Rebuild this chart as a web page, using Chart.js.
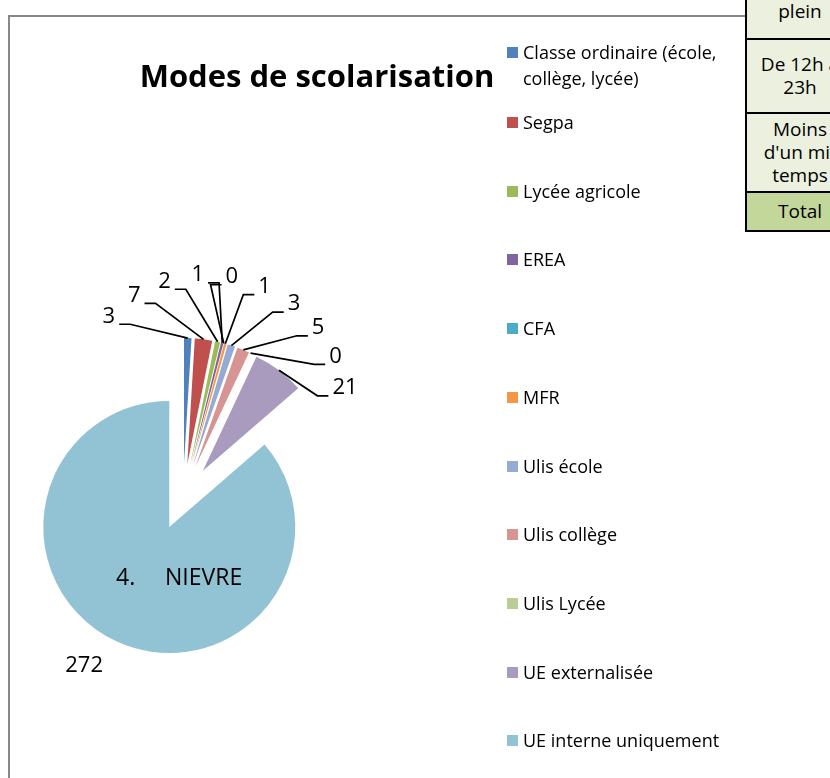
<!DOCTYPE html>
<html>
<head>
<meta charset="utf-8">
<script src="https://cdn.jsdelivr.net/npm/chart.js@4"></script>
<style>
  body { margin: 0; background: #fff; font-family: "Open Sans", sans-serif; }
  #wrap { position: relative; width: 830px; height: 778px; overflow: hidden; }
  #frame { position: absolute; left: 8px; top: 15px; width: 900px; height: 900px;
           border-left: 2px solid #888; border-top: 2px solid #888; }
  #chartBox { position: absolute; left: 0; top: 0; width: 830px; height: 778px; }
  #title { position: absolute; left: 117px; width: 400px; top: 60px; text-align: center;
           font: bold 31px "Open Sans", sans-serif; line-height: 31px; color: #000; }
  #nievre { position: absolute; left: 116px; top: 560px; font: 23px "Open Sans", sans-serif; color: #000; }
  #nievre span { position: absolute; left: 49px; white-space: nowrap; }
  .leg { position: absolute; left: 507px; width: 240px; font: 18px "Open Sans", sans-serif;
         line-height: 26px; color: #000; }
  .leg i { position: absolute; left: 0; top: 8px; width: 11px; height: 11px; }
  .leg div { margin-left: 16px; width: 205px; }
  #sheet { position: absolute; left: 745px; top: -40px; width: 110px; table-layout: fixed;
           border-collapse: collapse; font: 19px "Open Sans", sans-serif; color: #000; }
  #sheet td { border: 2px solid #000; background: #ebf1de; text-align: center;
              line-height: 23px; padding: 0; vertical-align: middle; white-space: nowrap; }
</style>
</head>
<body>
<div id="wrap">
  <div id="frame"></div>
  <div id="chartBox"><canvas id="pie"></canvas></div>
  <div id="title">Modes de scolarisation</div>
  <div id="nievre">4.<span>NIEVRE</span></div>
  <div id="legend"></div>
  <table id="sheet">
    <tr><td style="height:76px">Temps<br>plein</td></tr>
    <tr><td style="height:72px">De 12h à<br>23h</td></tr>
    <tr><td style="height:77px">Moins<br>d'un mi-<br>temps</td></tr>
    <tr><td style="height:37px;background:#c4d79b">Total</td></tr>
  </table>
</div>
<script>
// modes de scolarisation - Nièvre
const categories = [
    'Classe ordinaire (école, collège, lycée)',
    'Segpa',
    'Lycée agricole',
    'EREA',
    'CFA',
    'MFR',
    'Ulis école',
    'Ulis collège',
    'Ulis Lycée',
    'UE externalisée',
    'UE interne uniquement'
];
const effectifs = [3, 7, 2, 1, 0, 1, 3, 5, 0, 21, 272];
const colors = ['#4f81bd', '#c0504d', '#9bbb59', '#8064a2', '#4bacc6', '#f79646',
                '#95abd3', '#d69593', '#b9cd96', '#a99bbd', '#92c3d4'];

const EXPLODE = 33;  // px each slice is pulled out

// legend built by hand (Excel style, one item per slot)
const legend = document.getElementById('legend');
categories.forEach((cat, i) => {
    const item = document.createElement('div');
    item.className = 'leg';
    const center = i === 0 ? 52 : 122 + (i - 1) * 68.7;
    item.style.top = (center - 13) + 'px';
    item.innerHTML = `<i style="background:${colors[i]}"></i><div>${cat}</div>`;
    legend.appendChild(item);
});

// exploded pie: draw every arc moved out along its bisector
const explodePlugin = {
    id: 'explode',
    beforeDatasetDraw(chart, args) {
        const ctx = chart.ctx;
        args.meta.data.forEach(arc => {
            const mid = (arc.startAngle + arc.endAngle) / 2;
            ctx.save();
            ctx.translate(Math.cos(mid) * EXPLODE, Math.sin(mid) * EXPLODE);
            arc.draw(ctx);
            ctx.restore();
        });
        return false;
    }
};

// value labels with leader lines, spread out when slices are crowded
const leaderLabels = {
    id: 'leaderLabels',
    afterDatasetsDraw(chart) {
        const ctx = chart.ctx;
        const arcs = chart.getDatasetMeta(0).data;
        const vals = chart.data.datasets[0].data;
        const gap = 8.7 * Math.PI / 180;

        const info = arcs.map((arc, i) => {
            const p = arc.getProps(['x', 'y', 'startAngle', 'endAngle', 'outerRadius'], true);
            const mid = (p.startAngle + p.endAngle) / 2;
            return { i, mid, cx: p.x, cy: p.y, r: p.outerRadius + EXPLODE, want: mid };
        });

        // merge overlapping labels into clusters centred on their mean angle
        let clusters = info.map(o => ({ items: [o], center: o.want }));
        let merged = true;
        while (merged) {
            merged = false;
            for (let k = 0; k < clusters.length - 1; k++) {
                const a = clusters[k], b = clusters[k + 1];
                const aEnd = a.center + (a.items.length - 1) / 2 * gap;
                const bStart = b.center - (b.items.length - 1) / 2 * gap;
                if (bStart - aEnd < gap) {
                    const items = a.items.concat(b.items);
                    const center = items.reduce((s, o) => s + o.want, 0) / items.length;
                    clusters.splice(k, 2, { items, center });
                    merged = true;
                    break;
                }
            }
        }

        ctx.save();
        ctx.font = '22px "Open Sans", sans-serif';
        ctx.textAlign = 'center';
        ctx.textBaseline = 'middle';
        ctx.fillStyle = '#000';
        ctx.strokeStyle = '#000';
        ctx.lineWidth = 1.7;

        clusters.forEach(c => {
            const crowded = c.items.length > 1;
            c.items.forEach((o, k) => {
                const txt = String(vals[o.i]);
                const w = ctx.measureText(txt).width;

                if (!crowded) {
                    // outside end: label box corner sits just off the slice
                    const th = o.mid + 0.04;
                    const R = o.r + 18;
                    const px = o.cx + Math.cos(th) * R;
                    const py = o.cy + Math.sin(th) * R;
                    ctx.fillText(txt, px + Math.sign(Math.cos(th)) * w / 2,
                                      py + Math.sign(Math.sin(th)) * 11);
                    return;
                }

                const dk = k - (c.items.length - 1) / 2;
                const th = c.center + dk * gap;
                const dDeg = dk * 8.7;
                const R = o.r + 67 - 0.02 * dDeg * dDeg;  // flatter fan at the ends
                const lx = o.cx + Math.cos(th) * R;
                const ly = o.cy + Math.sin(th) * R;
                ctx.fillText(txt, lx, ly);

                const ax = o.cx + Math.cos(o.mid) * o.r;
                const ay = o.cy + Math.sin(o.mid) * o.r;
                ctx.beginPath();
                ctx.moveTo(ax, ay);
                if (lx < ax - 4) {
                    const ex = lx + w / 2 + 4;
                    ctx.lineTo(ex + 11, ly + 8);
                    ctx.lineTo(ex, ly + 8);
                } else if (lx > ax + 4) {
                    const ex = lx - w / 2 - 4;
                    ctx.lineTo(ex - 11, ly + 8);
                    ctx.lineTo(ex, ly + 8);
                } else {
                    ctx.lineTo(lx - w / 2 - 2, ly + 8);
                }
                ctx.stroke();
            });
        });
        ctx.restore();
    }
};

new Chart(document.getElementById('pie'), {
    type: 'pie',
    data: {
        labels: categories,
        datasets: [{
            data: effectifs,
            backgroundColor: colors,
            borderWidth: 0
        }]
    },
    options: {
        responsive: true,
        maintainAspectRatio: false,
        animation: false,
        radius: 126,
        layout: { padding: { left: 0, right: 464, top: 216, bottom: 0 } },
        plugins: {
            legend: { display: false },
            title: { display: false },
            tooltip: { enabled: false }
        }
    },
    plugins: [explodePlugin, leaderLabels]
});
</script>
</body>
</html>
